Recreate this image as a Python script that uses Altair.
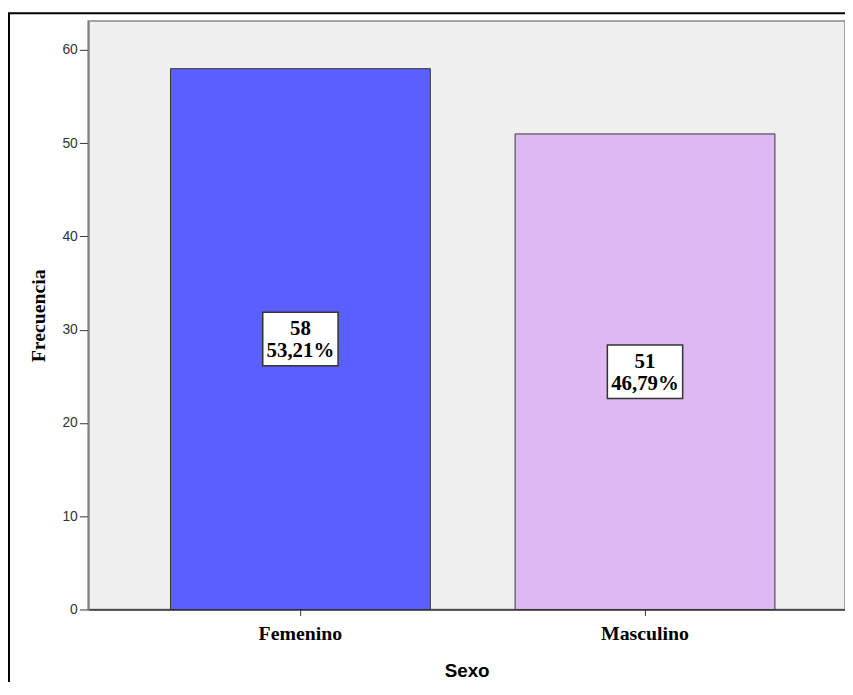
import altair as alt
import pandas as pd

categories = ["Femenino", "Masculino"]
counts = [58, 51]
percents = ["53,21%", "46,79%"]
colors = ["#5B5FFF", "#DDB8F1"]

df = pd.DataFrame({
    "Sexo": categories,
    "Frecuencia": counts,
    "pct": percents,
})
df["label"] = [f"{c}\n{p}" for c, p in zip(counts, percents)]

W, H = 764, 594

x = alt.X("Sexo:N", sort=categories,
          scale=alt.Scale(paddingInner=0.246, paddingOuter=0.221, align=0.54),
          axis=alt.Axis(title="Sexo", labelAngle=0, labelFont="Liberation Serif",
                        labelFontSize=20, labelFontWeight="bold", labelColor="#000",
                        tickSize=6, tickColor="#333", domainColor="#333", domainWidth=1.5,
                        labelPadding=8, titleFont="Liberation Sans", titleFontSize=19,
                        titleFontWeight="bold", titleColor="#000", titlePadding=19))
yscale = alt.Scale(domain=[0, 63.1], nice=False)

bars = alt.Chart(df).mark_bar(stroke="#333", strokeWidth=1).encode(
    x=x,
    y=alt.Y("Frecuencia:Q", scale=yscale,
            axis=alt.Axis(title="Frecuencia", values=[0, 10, 20, 30, 40, 50, 60],
                          grid=False, labelFont="Liberation Sans", labelFontSize=14,
                          labelColor="#333", tickSize=9, tickColor="#333",
                          domainColor="#808080", domainWidth=2, labelPadding=2,
                          titleFont="Liberation Serif", titleFontSize=20,
                          titleFontWeight="bold", titleColor="#000", titlePadding=14)),
    color=alt.Color("Sexo:N", scale=alt.Scale(domain=categories, range=colors), legend=None),
)

boxes = alt.Chart(df).transform_calculate(mid="datum.Frecuencia / 2").mark_point(
    shape="M-1,-0.71L1,-0.71L1,0.71L-1,0.71Z", size=5776, filled=True,
    fill="white", stroke="#333", strokeWidth=1.5, opacity=1,
).encode(
    x=alt.X("Sexo:N", sort=categories),
    y=alt.Y("mid:Q", scale=yscale),
)

texts = alt.Chart(df).transform_calculate(mid="datum.Frecuencia / 2").mark_text(
    font="Liberation Serif", fontSize=21, fontWeight="bold", lineBreak="\n", lineHeight=22,
    baseline="middle", align="center", color="#000", dy=-10,
).encode(
    x=alt.X("Sexo:N", sort=categories),
    y=alt.Y("mid:Q", scale=yscale),
    text="label:N",
)

frame = alt.Chart(pd.DataFrame({"f": [0]})).mark_rect(
    fill="transparent", stroke="#000", strokeWidth=2,
).encode(
    x=alt.value(-80), x2=alt.value(W + 60),
    y=alt.value(-8), y2=alt.value(H + 200),
)

chart = alt.layer(bars, boxes, texts, frame).properties(
    width=W, height=H,
    autosize=alt.AutoSizeParams(type="none"),
    padding={"left": 81, "top": 10, "right": 0, "bottom": 70},
    background="white",
).configure_view(
    fill="#F0F0F0", stroke="#888", strokeWidth=1.5,
)

chart.save("out.html", embed_options={"renderer": "svg", "actions": False})
